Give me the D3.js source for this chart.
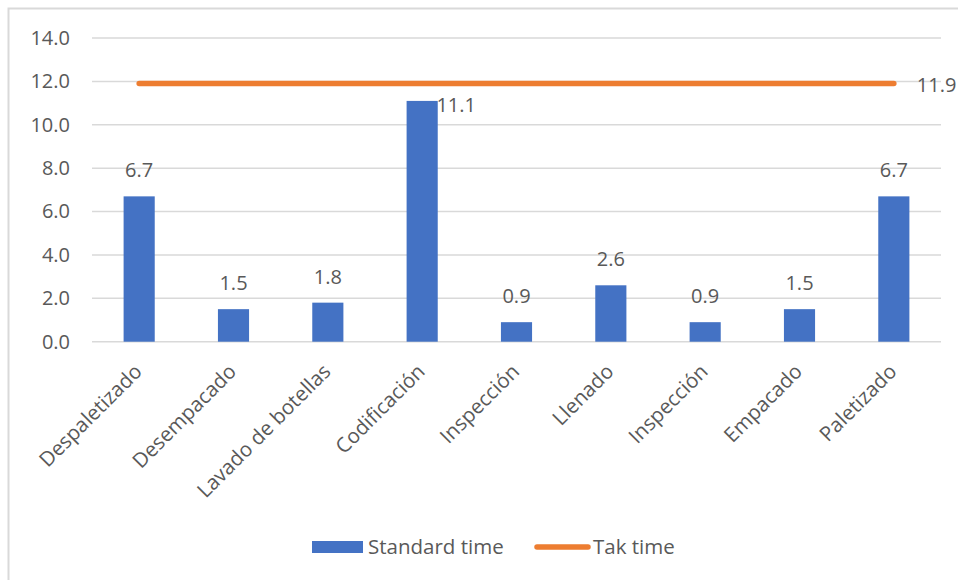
<!DOCTYPE html>
<html>
<head>
<meta charset="utf-8">
<script src="https://cdn.jsdelivr.net/npm/d3@7/dist/d3.min.js"></script>
<style>
  html, body { margin: 0; padding: 0; background: #fff; }
  svg { display: block; font-family: "Segoe UI", "Open Sans", sans-serif; }
</style>
</head>
<body>
<svg id="chart" width="958" height="580"></svg>
<script>
// Process steps and their standard times
const categories = ["Despaletizado", "Desempacado", "Lavado de botellas", "Codificación",
  "Inspección", "Llenado", "Inspección", "Empacado", "Paletizado"];
const standardTime = [6.7, 1.5, 1.8, 11.1, 0.9, 2.6, 0.9, 1.5, 6.7];
const takTime = [11.9, 11.9, 11.9, 11.9, 11.9, 11.9, 11.9, 11.9, 11.9];
const yTicks = [0, 2, 4, 6, 8, 10, 12, 14];
const seriesNames = ["Standard time", "Tak time"];

const blue = "#4472C4", orange = "#ED7D31", textColor = "#595959", grid = "#D9D9D9";

const svg = d3.select("#chart");

// chart frame (left and top edges fall inside the page)
svg.append("rect").attr("x", 8.5).attr("y", 8.5).attr("width", 1000).attr("height", 1000)
  .attr("fill", "none").attr("stroke", grid).attr("stroke-width", 2);

const plot = { left: 92, right: 941, top: 38, bottom: 341.7 };

const x = d3.scaleBand().domain(d3.range(categories.length))
  .range([plot.left, plot.right]).paddingInner(0).paddingOuter(0);
const y = d3.scaleLinear().domain([0, 14]).range([plot.bottom, plot.top]);

// horizontal gridlines
svg.append("g").selectAll("line").data(yTicks).join("line")
  .attr("x1", plot.left).attr("x2", plot.right)
  .attr("y1", d => y(d)).attr("y2", d => y(d))
  .attr("stroke", grid).attr("stroke-width", 1.5);

// y axis labels
const yAxis = d3.axisLeft(y).tickValues(yTicks).tickFormat(d3.format(".1f")).tickSize(0).tickPadding(22);
const gy = svg.append("g").attr("transform", `translate(${plot.left},0)`).call(yAxis);
gy.select(".domain").remove();
gy.selectAll("text").attr("fill", textColor).style("font-size", "20px")
  .style("font-family", '"Segoe UI", "Open Sans", sans-serif');

// bars
const barW = x.bandwidth() * 0.33;
svg.append("g").selectAll("rect").data(standardTime).join("rect")
  .attr("x", (d, i) => x(i) + x.bandwidth() / 2 - barW / 2)
  .attr("width", barW)
  .attr("y", d => y(d))
  .attr("height", d => y(0) - y(d))
  .attr("fill", blue);

// bar value labels (Codificación label sits beside its bar)
svg.append("g").selectAll("text").data(standardTime).join("text")
  .attr("x", (d, i) => x(i) + x.bandwidth() / 2 + (i === 3 ? 34 : 0))
  .attr("y", (d, i) => i === 3 ? y(d) + 11 : y(d) - 19)
  .attr("text-anchor", "middle")
  .attr("fill", textColor).style("font-size", "20px")
  .text(d => d3.format(".1f")(d));

// tak time line
const line = d3.line().x((d, i) => x(i) + x.bandwidth() / 2).y(d => y(d));
svg.append("path").datum(takTime).attr("d", line)
  .attr("fill", "none").attr("stroke", orange).attr("stroke-width", 5.5)
  .attr("stroke-linecap", "round");

// tak time value label at the line end
const last = takTime.length - 1;
svg.append("text")
  .attr("x", x(last) + x.bandwidth() / 2 + 23)
  .attr("y", y(takTime[last]) + 8)
  .attr("fill", textColor).style("font-size", "20px")
  .text(d3.format(".1f")(takTime[last]));

// category labels, rotated
svg.append("g").selectAll("text").data(categories).join("text")
  .attr("transform", (d, i) => `translate(${x(i) + x.bandwidth() / 2 - 1},${plot.bottom + 26}) rotate(-45)`)
  .attr("text-anchor", "end")
  .attr("dy", "0.35em")
  .attr("fill", textColor).style("font-size", "20.5px")
  .text(d => d);

// legend
const lg = svg.append("g");
lg.append("rect").attr("x", 312).attr("y", 541).attr("width", 51).attr("height", 12).attr("fill", blue);
lg.append("text").attr("x", 368).attr("y", 554).attr("fill", textColor).style("font-size", "20.5px").text(seriesNames[0]);
lg.append("line").attr("x1", 537).attr("x2", 588).attr("y1", 547).attr("y2", 547)
  .attr("stroke", orange).attr("stroke-width", 5.5).attr("stroke-linecap", "round");
lg.append("text").attr("x", 593).attr("y", 554).attr("fill", textColor).style("font-size", "20.5px").text(seriesNames[1]);
</script>
</body>
</html>
